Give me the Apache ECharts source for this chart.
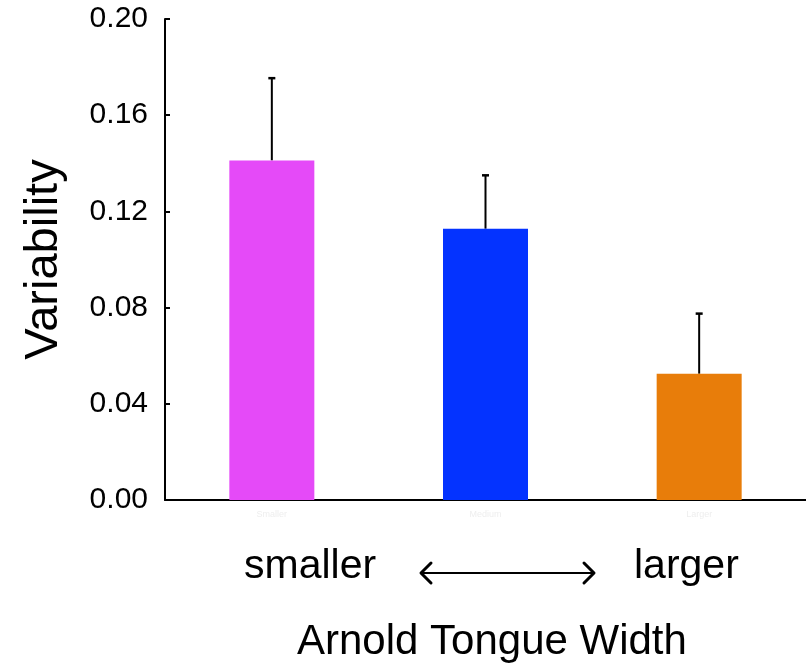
<!DOCTYPE html>
<html><head><meta charset="utf-8">
<script src="https://cdn.jsdelivr.net/npm/echarts@6/dist/echarts.min.js"></script>
<style>html,body{margin:0;padding:0;background:#fff}#c{width:806px;height:668px}</style>
</head><body><div id="c"></div>
<script>
const categories = ['Smaller', 'Medium', 'Larger'];
const values = [0.1412, 0.1128, 0.0525];
const errorTops = [0.1754, 0.1350, 0.0775];
const barColors = ['#E54AF8', '#0433FF', '#E87D0A'];
const yTicks = [0, 0.04, 0.08, 0.12, 0.16, 0.20];

const font = '"Liberation Sans", Arial, Helvetica, sans-serif';
const chart = echarts.init(document.getElementById('c'), null, {renderer: 'canvas'});
chart.setOption({
  animation: false,
  backgroundColor: '#fff',
  grid: {left: 165, top: 19, height: 481, right: 0},
  xAxis: {
    type: 'category', data: categories,
    axisLine: {lineStyle: {color: '#000', width: 2}},
    axisTick: {show: false},
    axisLabel: {color: '#eeeeee', fontSize: 9, margin: 10, fontFamily: font}
  },
  yAxis: {
    type: 'value', min: yTicks[0], max: yTicks[yTicks.length - 1], interval: 0.04,
    name: 'Variability', nameLocation: 'middle', nameRotate: 90, nameGap: 97,
    nameTextStyle: {fontSize: 47, color: '#000', fontFamily: font},
    axisLine: {show: true, lineStyle: {color: '#000', width: 2}},
    axisTick: {show: true, inside: true, length: 5, lineStyle: {color: '#000', width: 2}},
    splitLine: {show: false},
    axisLabel: {color: '#000', fontSize: 30, margin: 17, fontFamily: font,
      formatter: v => v.toFixed(2)}
  },
  series: [
    {
      type: 'bar', barWidth: 85,
      data: values.map((v, i) => ({value: v, itemStyle: {color: barColors[i]}})),
      z: 2
    },
    {
      type: 'custom', z: 1,
      data: values.map((v, i) => [i, v, errorTops[i]]),
      renderItem: function (params, api) {
        const base = api.coord([api.value(0), api.value(1)]);
        const top = api.coord([api.value(0), api.value(2)]);
        const hw = 3.5;
        return {
          type: 'group',
          children: [
            {type: 'line', shape: {x1: base[0], y1: base[1], x2: top[0], y2: top[1]},
             style: {stroke: '#000', lineWidth: 2}},
            {type: 'line', shape: {x1: top[0] - hw, y1: top[1], x2: top[0] + hw, y2: top[1]},
             style: {stroke: '#000', lineWidth: 2.5}}
          ]
        };
      }
    }
  ],
  graphic: [
    {type: 'text', left: 244, top: 546, style: {text: 'smaller', font: '41px ' + font, fill: '#000'}},
    {type: 'text', left: 634, top: 546, style: {text: 'larger', font: '41px ' + font, fill: '#000'}},
    {type: 'text', left: 297, top: 621, style: {text: 'Arnold Tongue Width', font: '42px ' + font, fill: '#000'}},
    {type: 'line', shape: {x1: 421, y1: 573, x2: 594, y2: 573}, style: {stroke: '#000', lineWidth: 2}},
    {type: 'polyline', shape: {points: [[431, 563], [421, 573], [431, 583]]}, style: {stroke: '#000', lineWidth: 3, fill: null, lineCap: 'round', lineJoin: 'round'}},
    {type: 'polyline', shape: {points: [[584, 563], [594, 573], [584, 583]]}, style: {stroke: '#000', lineWidth: 3, fill: null, lineCap: 'round', lineJoin: 'round'}}
  ]
});
</script></body></html>
